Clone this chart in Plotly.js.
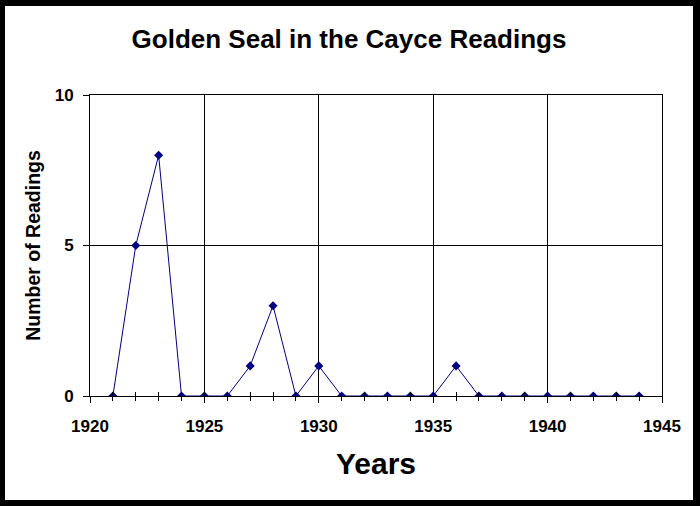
<!DOCTYPE html>
<html>
<head>
<meta charset="utf-8">
<script src="https://cdn.plot.ly/plotly-3.0.1.min.js"></script>
<style>
html,body{margin:0;padding:0;background:#000;width:700px;height:506px;overflow:hidden;}
#chart{position:absolute;left:5px;top:6px;width:688px;height:494px;background:#fff;}
</style>
</head>
<body>
<div id="chart"></div>
<script>
var years = [1921,1922,1923,1924,1925,1926,1927,1928,1929,1930,1931,1932,1933,1934,1935,1936,1937,1938,1939,1940,1941,1942,1943,1944];
var readings = [0,5,8,0,0,0,1,3,0,1,0,0,0,0,0,1,0,0,0,0,0,0,0,0];
var titleText = "Golden Seal in the Cayce Readings";
var xTitle = "Years";
var yTitle = "Number of Readings";

var fontFam = "Liberation Sans, Arial, sans-serif";
var navy = "#000080";

var traces = [
  {
    x: years, y: readings, type: "scatter", mode: "lines+markers",
    xaxis: "x", yaxis: "y",
    line: {color: navy, width: 1},
    marker: {symbol: "diamond", size: 7, color: navy},
    hoverinfo: "x+y"
  },
  {
    x: years, y: readings, type: "scatter", mode: "none",
    xaxis: "x2", yaxis: "y", hoverinfo: "skip", showlegend: false
  }
];

var layout = {
  width: 688, height: 494,
  margin: {l: 85, r: 31, t: 89, b: 104},
  paper_bgcolor: "#fff", plot_bgcolor: "#fff",
  showlegend: false,
  font: {family: fontFam, color: "#000"},
  title: {
    text: "<b>" + titleText + "</b>",
    font: {family: fontFam, size: 26, color: "#000"},
    x: 0.5, xref: "container", xanchor: "center",
    y: 1 - 33/494, yref: "container", yanchor: "middle"
  },
  xaxis: {
    range: [1920, 1945], dtick: 5, tick0: 1920,
    showgrid: true, gridcolor: "#000", gridwidth: 1,
    showline: true, linecolor: "#000", linewidth: 1, mirror: true,
    zeroline: false,
    ticks: "outside", ticklen: 6, tickcolor: "#000", tickwidth: 1,
    tickprefix: "<b>", ticksuffix: "</b>", ticklabelstandoff: 9,
    tickfont: {family: fontFam, size: 17, color: "#000"},
    minor: {dtick: 1, tick0: 1920, ticks: "outside", ticklen: 4, tickcolor: "#000", showgrid: false},
    title: {text: "<b>" + xTitle + "</b>", font: {family: fontFam, size: 30, color: "#000"}, standoff: 17},
    fixedrange: true
  },
  xaxis2: {
    overlaying: "x", matches: "x", anchor: "y",
    range: [1920, 1945], dtick: 1, tick0: 1920,
    showgrid: false, showline: false, zeroline: false,
    ticks: "inside", ticklen: 4, tickcolor: "#000", tickwidth: 1,
    showticklabels: false, fixedrange: true
  },
  yaxis: {
    range: [0, 10], dtick: 5, tick0: 0,
    showgrid: true, gridcolor: "#000", gridwidth: 1,
    showline: true, linecolor: "#000", linewidth: 1, mirror: true,
    zeroline: false,
    ticks: "outside", ticklen: 6, tickcolor: "#000", tickwidth: 1,
    tickprefix: "<b>", ticksuffix: "</b>", ticklabelstandoff: 6,
    tickfont: {family: fontFam, size: 17, color: "#000"},
    title: {text: "<b>" + yTitle + "</b>", font: {family: fontFam, size: 19.5, color: "#000"}, standoff: 8},
    fixedrange: true
  }
};

Plotly.newPlot("chart", traces, layout, {displayModeBar: false, staticPlot: true});
</script>
</body>
</html>
